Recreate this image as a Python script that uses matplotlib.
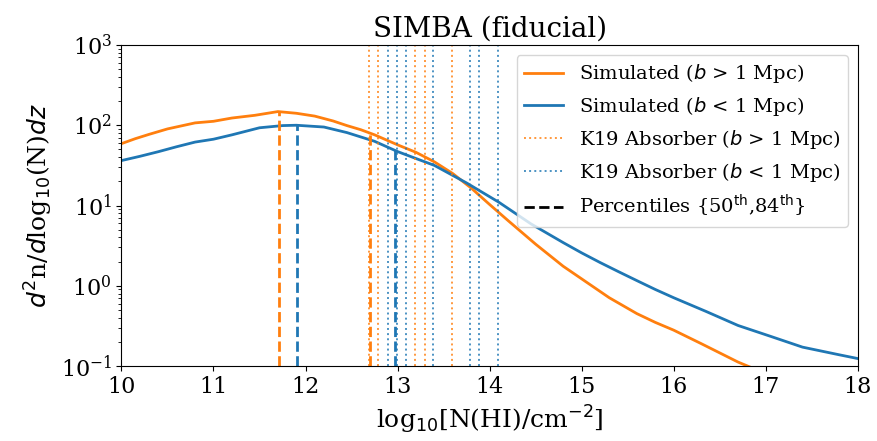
import matplotlib
matplotlib.use('Agg')
import matplotlib.pyplot as plt
import numpy as np

plt.rcParams['font.family'] = 'DejaVu Serif'
plt.rcParams['mathtext.fontset'] = 'dejavusans'

# column density distribution, b > 1 Mpc (orange)
x_far = [10.0, 10.15, 10.3, 10.5, 10.8, 11.0, 11.2, 11.45, 11.7, 11.9, 12.1, 12.3,
         12.45, 12.6, 12.75, 13.0, 13.2, 13.4, 13.6, 13.8, 14.0, 14.2, 14.5, 14.8,
         15.0, 15.3, 15.6, 15.8, 16.0, 16.3, 16.7, 16.85]
y_far = [59, 68, 77, 90, 107, 112, 123, 133, 148, 141, 130, 113,
         99, 88, 76, 57, 46, 35, 25, 16.5, 10.3, 6.5, 3.3, 1.75,
         1.22, 0.71, 0.45, 0.35, 0.28, 0.19, 0.112, 0.095]

# column density distribution, b < 1 Mpc (blue)
x_near = [10.0, 10.2, 10.4, 10.6, 10.8, 11.0, 11.2, 11.5, 11.75, 11.9, 12.2, 12.45,
          12.75, 13.0, 13.2, 13.4, 13.75, 14.1, 14.45, 14.8, 15.0, 15.2, 15.4, 15.6,
          15.8, 16.0, 16.35, 16.7, 17.05, 17.4, 17.8, 18.0]
y_near = [36.3, 41, 46.8, 54, 61.7, 67, 75.9, 93, 99, 100, 95, 81,
          63.1, 47, 38.5, 31.6, 19.1, 11.0, 5.9, 3.45, 2.57, 1.95, 1.5, 1.16,
          0.9, 0.71, 0.48, 0.32, 0.235, 0.172, 0.138, 0.124]

# K19 absorbers
k19_far = [12.69, 12.79, 13.19, 13.30, 13.59]
k19_near = [12.90, 12.99, 13.09, 13.39, 13.79, 13.89, 14.09]

# 50th / 84th percentiles
pct_far = [11.71, 12.70]
pct_near = [11.91, 12.97]

orange = '#ff7f0e'
blue = '#1f77b4'

fig = plt.figure(figsize=(8.77, 4.41), dpi=100)
ax = fig.add_axes([0.1385, 0.170, 0.8395, 0.728])

ax.plot(x_far, y_far, color=orange, lw=2, label=r'Simulated ($b$ > 1 Mpc)')
ax.plot(x_near, y_near, color=blue, lw=2, label=r'Simulated ($b$ < 1 Mpc)')

for i, v in enumerate(k19_far):
    ax.axvline(v, color=orange, ls=':', lw=1.4, alpha=0.8,
               label=r'K19 Absorber ($b$ > 1 Mpc)' if i == 0 else None)
for i, v in enumerate(k19_near):
    ax.axvline(v, color=blue, ls=':', lw=1.4, alpha=0.8,
               label=r'K19 Absorber ($b$ < 1 Mpc)' if i == 0 else None)

# dashed percentile lines go up to the curve
for v in pct_far:
    top = 10 ** np.interp(v, x_far, np.log10(y_far))
    ax.vlines(v, 0.1, top, color=orange, ls='--', lw=2)
for v in pct_near:
    top = 10 ** np.interp(v, x_near, np.log10(y_near))
    ax.vlines(v, 0.1, top, color=blue, ls='--', lw=2)
ax.plot([], [], color='k', ls='--', lw=2,
        label=r'Percentiles {50$^{\mathrm{th}}$,84$^{\mathrm{th}}$}')

ax.set_yscale('log')
ax.set_xlim(10, 18)
ax.set_ylim(0.1, 1000)
ax.tick_params(labelsize=16)
ax.set_xlabel(r'log$_{10}$[N(HI)/cm$^{-2}$]', fontsize=18)
ax.set_ylabel(r'$d^2$n/$d$log$_{10}$(N)$dz$', fontsize=18)
ax.set_title('SIMBA (fiducial)', fontsize=20)

ax.legend(loc='upper right', fontsize=14)

fig.savefig('out.png', dpi=100)
